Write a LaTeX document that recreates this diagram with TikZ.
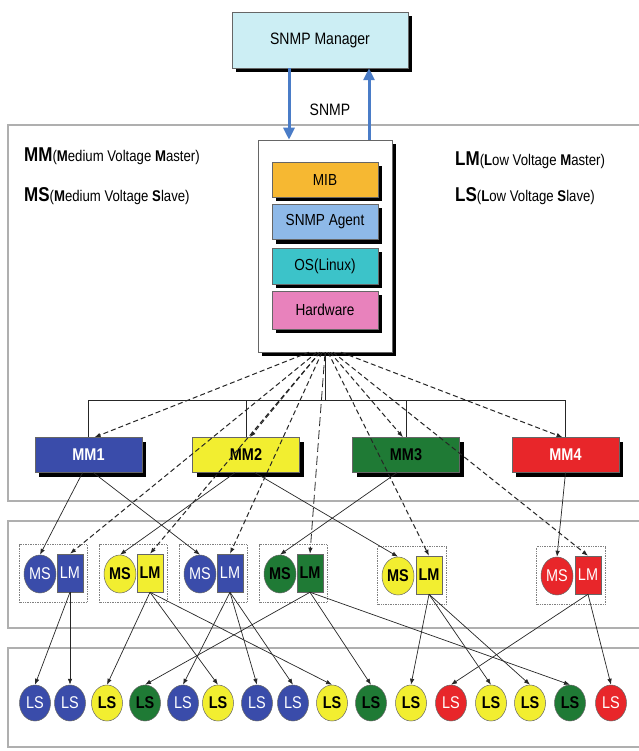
\documentclass[tikz,border=0pt]{standalone}
\usepackage{fontspec}
\setmainfont{Liberation Sans}[FakeStretch=0.85]
\usetikzlibrary{shapes.geometric,shadows,fit,arrows.meta,calc}

\definecolor{mgrfill}{RGB}{204,238,244}
\definecolor{mibfill}{RGB}{246,184,50}
\definecolor{agtfill}{RGB}{142,185,232}
\definecolor{osfill}{RGB}{60,195,201}
\definecolor{hwfill}{RGB}{232,130,188}
\definecolor{cblue}{RGB}{58,76,170}
\definecolor{cyellow}{RGB}{242,238,48}
\definecolor{cgreen}{RGB}{31,122,53}
\definecolor{cred}{RGB}{232,38,42}
\definecolor{arrowblue}{RGB}{74,124,199}
\definecolor{panelgray}{RGB}{175,175,175}

\begin{document}
\begin{tikzpicture}[x=1pt,y=-1pt,
  shad/.style={drop shadow={shadow xshift=4pt,shadow yshift=-4pt,fill=black,opacity=1}},
  box/.style={rectangle, draw=black!60, line width=0.5pt, inner sep=0pt, shad, font=\fontsize{16}{18}\selectfont},
  mgrbox/.style={box, fill=mgrfill, minimum width=176pt, minimum height=56pt, font=\fontsize{16.5}{18}\selectfont},
  agentbox/.style={box, fill=white, minimum width=134pt, minimum height=212pt},
  layer/.style={box, minimum width=106pt},
  mmbox/.style={box, minimum width=107pt, minimum height=35pt, font=\fontsize{17}{19}\selectfont\bfseries},
  msnode/.style={ellipse, draw=black!60, line width=0.5pt, minimum width=32pt, minimum height=38pt, inner sep=0pt},
  lmnode/.style={rectangle, draw=black!60, line width=0.5pt, minimum width=26pt, minimum height=38pt, inner sep=0pt},
  lsnode/.style={ellipse, draw=black!60, line width=0.5pt, minimum width=31pt, minimum height=36pt, inner sep=0pt},
  cb/.style={fill=cblue, text=white, font=\fontsize{17}{19}\selectfont},
  cy/.style={fill=cyellow, text=black, font=\fontsize{17}{19}\selectfont\bfseries},
  cg/.style={fill=cgreen, text=black, font=\fontsize{17}{19}\selectfont\bfseries},
  cr/.style={fill=cred, text=white, font=\fontsize{17}{19}\selectfont},
  grp/.style={draw=gray, densely dotted, line width=0.7pt, inner xsep=4pt, inner ysep=9pt},
  tip/.style={-{Latex[length=6pt,width=4.5pt]}},
  link/.style={draw=black!85, line width=0.7pt, tip},
  dlink/.style={draw=black!85, line width=1pt, dash pattern=on 5pt off 3pt, tip},
  bus/.style={draw=black!85, line width=0.7pt},
  snmparr/.style={draw=arrowblue, line width=3pt, -{Triangle[length=12pt,width=11pt]}},
  panel/.style={draw=panelgray, line width=1.6pt},
  legend/.style={anchor=west, inner sep=0pt, font=\fontsize{15.5}{18}\selectfont}
]
\useasboundingbox (0,0) rectangle (638,751);
\fill[white] (0,0) rectangle (638,751);

% panels
\draw[panel] (640,125) -- (8,125) -- (8,501) -- (640,501);
\draw[panel] (640,521) -- (8,521) -- (8,628) -- (640,628);
\draw[panel] (640,648) -- (8,648) -- (8,747) -- (640,747);

% manager
\node[mgrbox] (mgr) at (320,40) {SNMP Manager};

% agent stack
\node[agentbox] (agent) at (325,246) {};
\node[layer, fill=mibfill, minimum height=35pt] (mib) at (325,180) {MIB};
\node[layer, fill=agtfill, minimum height=35pt] (snmpagent) at (325,222) {SNMP Agent};
\node[layer, fill=osfill, minimum height=36pt] (os) at (325,266) {OS(Linux)};
\node[layer, fill=hwfill, minimum height=38pt] (hw) at (325,310) {Hardware};

% SNMP arrows
\draw[snmparr] ([xshift=-31pt]mgr.south) -- ([xshift=-31pt]mgr.south |- agent.north);
\draw[snmparr] ([xshift=49pt]mgr.south |- agent.north) -- ([xshift=49pt]mgr.south);
\node[font=\fontsize{16.5}{18}\selectfont] (snmplbl) at (330,110) {SNMP};

% legends
\node[legend] (lgmm) at (24,156) {{\fontsize{20}{22}\selectfont\bfseries MM}(\textbf{M}edium Voltage \textbf{M}aster)};
\node[legend] (lgms) at (24,196) {{\fontsize{20}{22}\selectfont\bfseries MS}(\textbf{M}edium Voltage \textbf{S}lave)};
\node[legend] (lglm) at (455,160) {{\fontsize{20}{22}\selectfont\bfseries LM}(\textbf{L}ow Voltage \textbf{M}aster)};
\node[legend] (lgls) at (455,196) {{\fontsize{20}{22}\selectfont\bfseries LS}(\textbf{L}ow Voltage \textbf{S}lave)};

% MM boxes
\node[mmbox, fill=cblue, text=white] (mm1) at (88.5,455) {MM1};
\node[mmbox, fill=cyellow, text=black] (mm2) at (246,455) {MM2};
\node[mmbox, fill=cgreen, text=black] (mm3) at (406,455) {MM3};
\node[mmbox, fill=cred, text=white] (mm4) at (565.5,455) {MM4};

% bus
\coordinate (busc) at (325,400);
\draw[bus] (agent.south) -- (busc);
\draw[bus] (mm1.north |- busc) -- (mm4.north |- busc);
\draw[bus] (mm1.north |- busc) -- (mm1.north);
\draw[bus] (mm2.north |- busc) -- (mm2.north);
\draw[bus] (mm3.north |- busc) -- (mm3.north);
\draw[bus] (mm4.north |- busc) -- (mm4.north);

% MS / LM groups
\node[msnode, cb] (ms1) at (40,574) {MS};
\node[lmnode, cb] (lm1) at (70,573) {LM};
\node[msnode, cy] (ms2) at (120,574) {MS};
\node[lmnode, cy] (lm2) at (150,573) {LM};
\node[msnode, cb] (ms3) at (200,574) {MS};
\node[lmnode, cb] (lm3) at (230,573) {LM};
\node[msnode, cg] (ms4) at (280,574) {MS};
\node[lmnode, cg] (lm4) at (310,573) {LM};
\node[msnode, cy] (ms5) at (398,576) {MS};
\node[lmnode, cy] (lm5) at (429,575) {LM};
\node[msnode, cr] (ms6) at (557,576) {MS};
\node[lmnode, cr] (lm6) at (588,575) {LM};
\node[grp, fit=(ms1)(lm1)] (g1) {};
\node[grp, fit=(ms2)(lm2)] (g2) {};
\node[grp, fit=(ms3)(lm3)] (g3) {};
\node[grp, fit=(ms4)(lm4)] (g4) {};
\node[grp, fit=(ms5)(lm5)] (g5) {};
\node[grp, fit=(ms6)(lm6)] (g6) {};

% LS row
\node[lsnode, cb] (ls1) at (35,703) {LS};
\node[lsnode, cb] (ls2) at (70,703) {LS};
\node[lsnode, cy] (ls3) at (107,703) {LS};
\node[lsnode, cg] (ls4) at (145,703) {LS};
\node[lsnode, cb] (ls5) at (183,703) {LS};
\node[lsnode, cy] (ls6) at (218,703) {LS};
\node[lsnode, cb] (ls7) at (257,703) {LS};
\node[lsnode, cb] (ls8) at (293,703) {LS};
\node[lsnode, cy] (ls9) at (332,703) {LS};
\node[lsnode, cg] (ls10) at (371,703) {LS};
\node[lsnode, cy] (ls11) at (411,703) {LS};
\node[lsnode, cr] (ls12) at (451,703) {LS};
\node[lsnode, cy] (ls13) at (491,703) {LS};
\node[lsnode, cy] (ls14) at (530,703) {LS};
\node[lsnode, cg] (ls15) at (570,703) {LS};
\node[lsnode, cr] (ls16) at (611,703) {LS};

% MM -> MS
\draw[link] ([xshift=-6pt]mm1.south) -- (ms1.north);
\draw[link] ([xshift=5pt]mm1.south) -- (ms3.north);
\draw[link] ([xshift=-11pt]mm2.south) -- (ms2.north);
\draw[link] ([xshift=9pt]mm2.south) -- (ms5.north);
\draw[link] ([xshift=-9pt]mm3.south) -- (ms4.north);
\draw[link] (mm4.south) -- (ms6.north);

% agent -> MM / LM (dashed)
\draw[dlink] ([xshift=-16pt]agent.south) -- ([xshift=6pt]mm1.north);
\draw[dlink] ([xshift=-8pt]agent.south) -- (lm1.north);
\draw[dlink] ([xshift=-5pt]agent.south) -- (lm2.north);
\draw[dlink] ([xshift=-5pt]agent.south) -- ([xshift=4pt]mm2.north);
\draw[dlink] ([xshift=-3pt]agent.south) -- (lm3.north);
\draw[dlink, line width=0.8pt, dash pattern=on 9pt off 4pt] (agent.south) -- (lm4.north);
\draw[dlink] ([xshift=5pt]agent.south) -- ([xshift=-3pt]mm3.north);
\draw[dlink] ([xshift=3pt]agent.south) -- (lm5.north);
\draw[dlink] ([xshift=8pt]agent.south) -- (lm6.north);
\draw[dlink] ([xshift=16pt]agent.south) -- ([xshift=-3pt]mm4.north);

% LM -> LS
\draw[link] (lm1.south) -- (ls1.north);
\draw[link] (lm1.south) -- (ls2.north);
\draw[link] (lm2.south) -- (ls3.north);
\draw[link] (lm2.south) -- (ls6.north);
\draw[link] (lm2.south) -- (ls9.north);
\draw[link] (lm3.south) -- (ls5.north);
\draw[link] (lm3.south) -- (ls7.north);
\draw[link] (lm3.south) -- (ls8.north);
\draw[link] (lm4.south) -- (ls4.north);
\draw[link] (lm4.south) -- (ls10.north);
\draw[link] (lm4.south) -- (ls15.north);
\draw[link] (lm5.south) -- (ls11.north);
\draw[link] (lm5.south) -- (ls13.north);
\draw[link] (lm5.south) -- (ls14.north);
\draw[link] (lm6.south) -- (ls12.north);
\draw[link] (lm6.south) -- (ls16.north);
\end{tikzpicture}
\end{document}
